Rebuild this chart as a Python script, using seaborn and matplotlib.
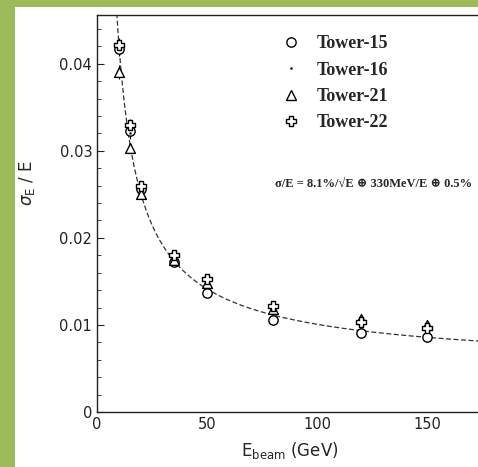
import numpy as np
import pandas as pd
import matplotlib
matplotlib.use("Agg")
import matplotlib.pyplot as plt
from matplotlib.lines import Line2D
from matplotlib.patches import Rectangle
import seaborn as sns

# Beam energies (GeV) and measured relative resolution for each tower
energy = [10, 15, 20, 35, 50, 80, 120, 150]
tower15 = [0.0417, 0.0323, 0.0256, 0.0172, 0.0137, 0.0106, 0.0091, 0.0086]
tower16 = [0.0420, 0.0320, 0.0252, 0.0174, 0.0145, 0.0115, 0.0098, 0.0092]
tower21 = [0.0391, 0.0303, 0.0250, 0.0175, 0.0148, 0.0118, 0.0107, 0.0100]
tower22 = [0.0422, 0.0330, 0.0260, 0.0180, 0.0153, 0.0122, 0.0103, 0.0096]
stat_err = [0.0008, 0.0006, 0.0004, 0.0003, 0.0003, 0.0003, 0.0003, 0.0003]

tower_names = ["Tower-15", "Tower-16", "Tower-21", "Tower-22"]

# Fit parameters: stochastic term, noise term (GeV), constant term
stoch = 0.081
noise = 0.330
const = 0.005

sns.set_style("ticks")
plt.rcParams["font.family"] = ["DejaVu Sans"]

fig = plt.figure(figsize=(4.78, 4.67), dpi=100)
fig.patch.set_facecolor("#9bbb59")
fig.patches.append(Rectangle((15 / 478, 0), 1, 1 - 7 / 467, transform=fig.transFigure,
                             facecolor="white", edgecolor="none", zorder=-10))

ax = fig.add_axes([97 / 478, 1 - 412 / 467, 385 / 478, 397 / 467])
ax.set_facecolor("none")

# Fitted resolution curve
e_fit = np.linspace(9.0, 176, 300)
res_fit = np.sqrt((stoch / np.sqrt(e_fit)) ** 2 + (noise / e_fit) ** 2 + const ** 2)
sns.lineplot(x=e_fit, y=res_fit, ax=ax, color="#333333", lw=0.9,
             linestyle=(0, (4, 2)), zorder=1)

styles = {
    "Tower-15": dict(marker="o", s=45, facecolor="white", edgecolor="black", linewidth=1.0),
    "Tower-16": dict(marker=".", s=8, facecolor="black", edgecolor="black", linewidth=0.3),
    "Tower-21": dict(marker="^", s=50, facecolor="white", edgecolor="black", linewidth=1.0),
    "Tower-22": dict(marker="P", s=45, facecolor="white", edgecolor="black", linewidth=1.0),
}
series = {"Tower-15": tower15, "Tower-16": tower16, "Tower-21": tower21, "Tower-22": tower22}

for name in tower_names:
    vals = series[name]
    ax.errorbar(energy, vals, yerr=stat_err, fmt="none", ecolor="black",
                elinewidth=0.8, capsize=0, zorder=2)
    sns.scatterplot(x=energy, y=vals, ax=ax, zorder=3, **styles[name])

ax.set_xlim(0, 175)
ax.set_ylim(0, 0.0456)
ax.set_xticks([0, 50, 100, 150])
ax.set_yticks([0, 0.01, 0.02, 0.03, 0.04])
ax.set_yticklabels(["0", "0.01", "0.02", "0.03", "0.04"])
ax.set_yticks(np.arange(0, 0.046, 0.002), minor=True)
ax.tick_params(axis="both", which="major", labelsize=10.5, direction="in", length=5,
               width=0.8, colors="#222222")
ax.tick_params(axis="y", which="minor", direction="in", length=3, width=0.6)
ax.tick_params(axis="x", which="major", length=0)
for sp in ax.spines.values():
    sp.set_visible(True)
    sp.set_linewidth(1.0)
    sp.set_color("#222222")

ax.set_xlabel(r"E$_{\mathrm{beam}}$ (GeV)", fontsize=12, labelpad=6)
ax.set_ylabel(r"$\sigma_\mathrm{E}$ / E", fontsize=12)
ax.yaxis.set_label_coords(-0.155, 0.577)

# Legend
handles = []
for name in tower_names:
    st = styles[name]
    handles.append(Line2D([], [], linestyle="none", marker=st["marker"],
                          markersize=np.sqrt(st["s"]), markerfacecolor=st["facecolor"],
                          markeredgecolor="black", markeredgewidth=st["linewidth"]))
ax.legend(handles, tower_names, loc="upper left", bbox_to_anchor=(0.415, 0.99),
          frameon=False, handletextpad=0.4, labelspacing=0.52,
          prop=dict(family="Liberation Serif", weight="bold", size=13))

ax.text(178 / 385, 0.575, "σ/E = 8.1%/√E ⊕ 330MeV/E ⊕ 0.5%", transform=ax.transAxes,
        fontsize=9, fontweight="bold", family=["Liberation Serif", "DejaVu Serif"],
        va="center", ha="left")

fig.savefig("out.png", dpi=100)
